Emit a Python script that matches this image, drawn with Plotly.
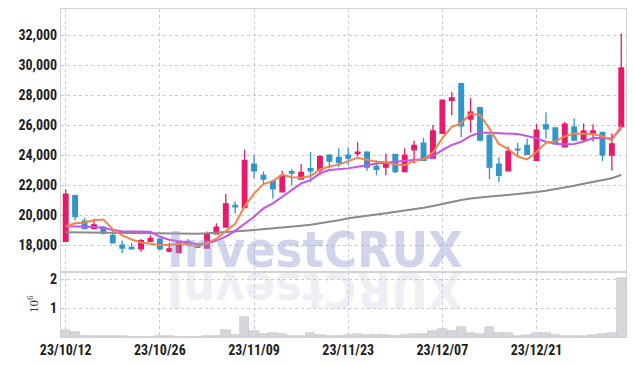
import plotly.graph_objects as go
from plotly.subplots import make_subplots

# ---- data ----
dates = [
    "2023-10-12", "2023-10-13", "2023-10-16", "2023-10-17", "2023-10-18", "2023-10-19", "2023-10-20",
    "2023-10-23", "2023-10-24", "2023-10-25", "2023-10-26", "2023-10-27", "2023-10-30", "2023-10-31",
    "2023-11-01", "2023-11-02", "2023-11-03", "2023-11-06", "2023-11-07", "2023-11-08", "2023-11-09",
    "2023-11-10", "2023-11-13", "2023-11-14", "2023-11-15", "2023-11-16", "2023-11-17", "2023-11-20",
    "2023-11-21", "2023-11-22", "2023-11-23", "2023-11-24", "2023-11-27", "2023-11-28", "2023-11-29",
    "2023-11-30", "2023-12-01", "2023-12-04", "2023-12-05", "2023-12-06", "2023-12-07", "2023-12-08",
    "2023-12-11", "2023-12-12", "2023-12-13", "2023-12-14", "2023-12-15", "2023-12-18", "2023-12-19",
    "2023-12-20", "2023-12-21", "2023-12-22", "2023-12-26", "2023-12-27", "2023-12-28", "2024-01-02",
    "2024-01-03", "2024-01-04", "2024-01-05", "2024-01-08",
]
opens = [18250, 21300, 19600, 19100, 19200, 18650, 18000, 17850, 17750, 18250,
         18400, 17600, 17500, 18250, 18050, 17800, 18750, 19200, 20650, 20500,
         23400, 22650, 22250, 21550, 22900, 22400, 23100, 23000, 24000, 23850,
         24000, 24100, 24200, 23250, 23200, 24050, 22900, 24350, 24800, 23800,
         25450, 27650, 28750, 26400, 27150, 25300, 23400, 22950, 24400, 24650,
         23650, 26000, 25800, 24550, 25850, 25050, 25500, 25500, 24000, 25900]
highs = [21700, 21350, 19800, 19750, 19250, 18950, 18300, 18150, 18400, 18650,
         18450, 18150, 18250, 18400, 18100, 18900, 19450, 21400, 20900, 24350,
         24000, 22900, 22350, 22950, 23050, 23400, 24200, 24000, 24050, 24450,
         24500, 24850, 24250, 23650, 24100, 24050, 24450, 24950, 25150, 26000,
         27700, 28200, 28800, 27800, 27200, 25400, 23850, 24550, 24800, 25100,
         26050, 26850, 25800, 26200, 26450, 26100, 26050, 25550, 25450, 32100]
lows = [18200, 19650, 19050, 19050, 18700, 18100, 17450, 17700, 17550, 18250,
        17650, 17500, 17450, 17900, 17800, 17750, 18700, 19200, 20100, 20500,
        22450, 22100, 21100, 21500, 22000, 22350, 22200, 22650, 23100, 23200,
        23350, 23900, 22950, 22650, 22650, 22800, 22850, 23450, 23600, 23800,
        25400, 26650, 25200, 25500, 24900, 22400, 22200, 22900, 24000, 24050,
        23600, 25100, 24700, 24500, 24950, 24900, 24900, 23600, 22950, 25800]
closes = [21400, 19900, 19100, 19350, 18800, 18150, 17800, 17750, 18300, 18450,
          17750, 17750, 18200, 18100, 17850, 18750, 19200, 20750, 20550, 23650,
          22950, 22400, 21750, 22650, 22800, 22850, 22950, 23900, 23600, 23500,
          23800, 24200, 23200, 23050, 23400, 22900, 24000, 24650, 23650, 25600,
          27650, 27800, 25950, 26850, 25000, 23200, 22650, 24250, 24350, 24050,
          25650, 25750, 24750, 26050, 25000, 25600, 25600, 24000, 24750, 29800]
ma5 = [19250, 19450, 19500, 19650, 19700, 19050, 18640, 18370, 18170, 18100,
       18010, 18000, 18080, 18040, 17920, 18120, 18420, 18930, 19420, 20580,
       21430, 22060, 22260, 22690, 22520, 22490, 22600, 23040, 23230, 23360,
       23560, 23810, 23680, 23560, 23540, 23360, 23320, 23610, 23730, 24170,
       25120, 25880, 26130, 26770, 26650, 25760, 24740, 24400, 23900, 23710,
       24200, 24810, 24910, 25250, 25440, 25420, 25400, 25250, 24990, 25950]
ma20 = [19250, 19240, 19230, 19200, 19150, 19000, 18920, 18900, 18900, 18880,
        18550, 18350, 18250, 18180, 18050, 18080, 18300, 18560, 18950, 19420,
        19890, 20440, 20780, 21220, 21670, 22110, 22330, 22780, 23000, 23040,
        23110, 23220, 23350, 23440, 23490, 23560, 23620, 23710, 23730, 23930,
        24330, 24670, 24890, 25270, 25490, 25490, 25450, 25400, 25400, 25270,
        25110, 24890, 24750, 24720, 24730, 24900, 25130, 25140, 25110, 25780]
ma60 = [18850, 18840, 18830, 18820, 18810, 18800, 18790, 18780, 18770, 18760,
        18760, 18750, 18750, 18750, 18760, 18780, 18810, 18850, 18900, 18950,
        19000, 19050, 19110, 19170, 19230, 19290, 19360, 19440, 19530, 19650,
        19780, 19880, 19960, 20040, 20120, 20200, 20290, 20380, 20480, 20600,
        20750, 20900, 21000, 21100, 21180, 21230, 21280, 21330, 21380, 21450,
        21530, 21620, 21720, 21830, 21950, 22080, 22200, 22320, 22450, 22680]
volumes = [250000, 170000, 30000, 30000, 30000, 30000, 30000, 8000, 8000, 8000,
           30000, 30000, 8000, 8000, 8000, 50000, 50000, 250000, 80000, 700000,
           220000, 120000, 150000, 120000, 50000, 50000, 150000, 80000, 35000, 50000,
           60000, 120000, 80000, 70000, 70000, 50000, 80000, 120000, 120000, 190000,
           290000, 190000, 330000, 150000, 120000, 350000, 150000, 150000, 50000, 80000,
           150000, 150000, 80000, 50000, 35000, 35000, 70000, 120000, 150000, 2050000]
price_ticks = [18000, 20000, 22000, 24000, 26000, 28000, 30000, 32000]
volume_ticks = [1000000, 2000000]
volume_tick_text = ["1", "2"]
tick_dates = dates[0::10]
tick_labels = [d[2:4] + "/" + d[5:7] + "/" + d[8:10] for d in tick_dates]

UP = "#e8196b"
DOWN = "#3196c9"
GRID = "#c9c9da"
AXLINE = "#d2d2d2"
TICKFONT = dict(family="Liberation Sans Narrow, Arial Narrow, Roboto Condensed, sans-serif",
                size=14, color="#1e1e1e", weight="bold")

fig = make_subplots(rows=2, cols=1, shared_xaxes=True, vertical_spacing=0,
                    row_heights=[0.802, 0.198])

for vals, col in [(ma60, "#8a8a8a"), (ma20, "#c653e6"), (ma5, "#ef8550")]:
    fig.add_trace(go.Scatter(x=dates, y=vals, mode="lines",
                             line=dict(color=col, width=2),
                             showlegend=False, hoverinfo="skip"), row=1, col=1)

fig.add_trace(go.Candlestick(
    x=dates, open=opens, high=highs, low=lows, close=closes,
    increasing=dict(line=dict(color=UP, width=1.3), fillcolor=UP),
    decreasing=dict(line=dict(color=DOWN, width=1.3), fillcolor=DOWN),
    whiskerwidth=0, showlegend=False, hoverinfo="skip"), row=1, col=1)

fig.add_trace(go.Bar(x=dates, y=volumes, marker=dict(color="#d6d6dc", line=dict(color="#bfbfc8", width=0.6)),
                     showlegend=False, hoverinfo="skip"), row=2, col=1)

xcommon = dict(type="category", range=[-0.5, len(dates) - 0.5], tickvals=tick_dates,
               ticktext=tick_labels, showgrid=True, gridcolor=GRID, griddash="dot", gridwidth=1,
               showline=True, mirror=True, linecolor=AXLINE, linewidth=1, ticks="",
               zeroline=False)
fig.update_xaxes(**xcommon)
fig.update_xaxes(showticklabels=False, rangeslider=dict(visible=False), row=1, col=1)
fig.update_xaxes(showticklabels=True, tickfont=TICKFONT, row=2, col=1)

fig.update_yaxes(range=[16200, 33733], tickvals=price_ticks,
                 ticktext=[f"{v:,}" for v in price_ticks], tickfont=TICKFONT,
                 showgrid=True, gridcolor=GRID, griddash="dot", gridwidth=1,
                 showline=True, mirror=True, linecolor=AXLINE, linewidth=1,
                 zeroline=False, ticks="", automargin=False, row=1, col=1)
fig.update_yaxes(range=[0, 2260000], tickvals=volume_ticks, ticktext=volume_tick_text,
                 tickfont=TICKFONT,
                 showgrid=True, gridcolor=GRID, griddash="dot", gridwidth=1,
                 showline=True, mirror=True, linecolor=AXLINE, linewidth=1,
                 zeroline=False, ticks="", automargin=False, row=2, col=1)

wm_font = dict(family="Liberation Sans Narrow, Arial Narrow, DejaVu Sans Condensed, sans-serif",
               size=50, weight="bold")
fig.add_annotation(text="InvestCRUX", xref="paper", yref="paper", x=0.449, y=0.198,
                   xanchor="center", yanchor="bottom", yshift=-9, showarrow=False,
                   font=dict(color="rgba(150,162,210,0.45)", **wm_font))
fig.add_annotation(text="XURCtsevnI", xref="paper", yref="paper", x=0.449, y=0.198,
                   xanchor="center", yanchor="top", yshift=13, textangle=180, showarrow=False,
                   font=dict(color="rgba(200,200,218,0.3)", **wm_font))
fig.add_annotation(text="10<sup>6</sup>", xref="paper", yref="paper", x=-0.05, y=0.1,
                   xanchor="center", yanchor="middle", textangle=-90, showarrow=False,
                   font=dict(family="Liberation Serif, serif", size=13, color="#333"))

fig.update_layout(width=634, height=366, margin=dict(l=61, r=8, t=9, b=29),
                  paper_bgcolor="white", plot_bgcolor="white", bargap=0,
                  showlegend=False, hovermode=False)

fig.write_html("out.html", config={"displayModeBar": False},
               post_script="document.body.style.margin='0';")
